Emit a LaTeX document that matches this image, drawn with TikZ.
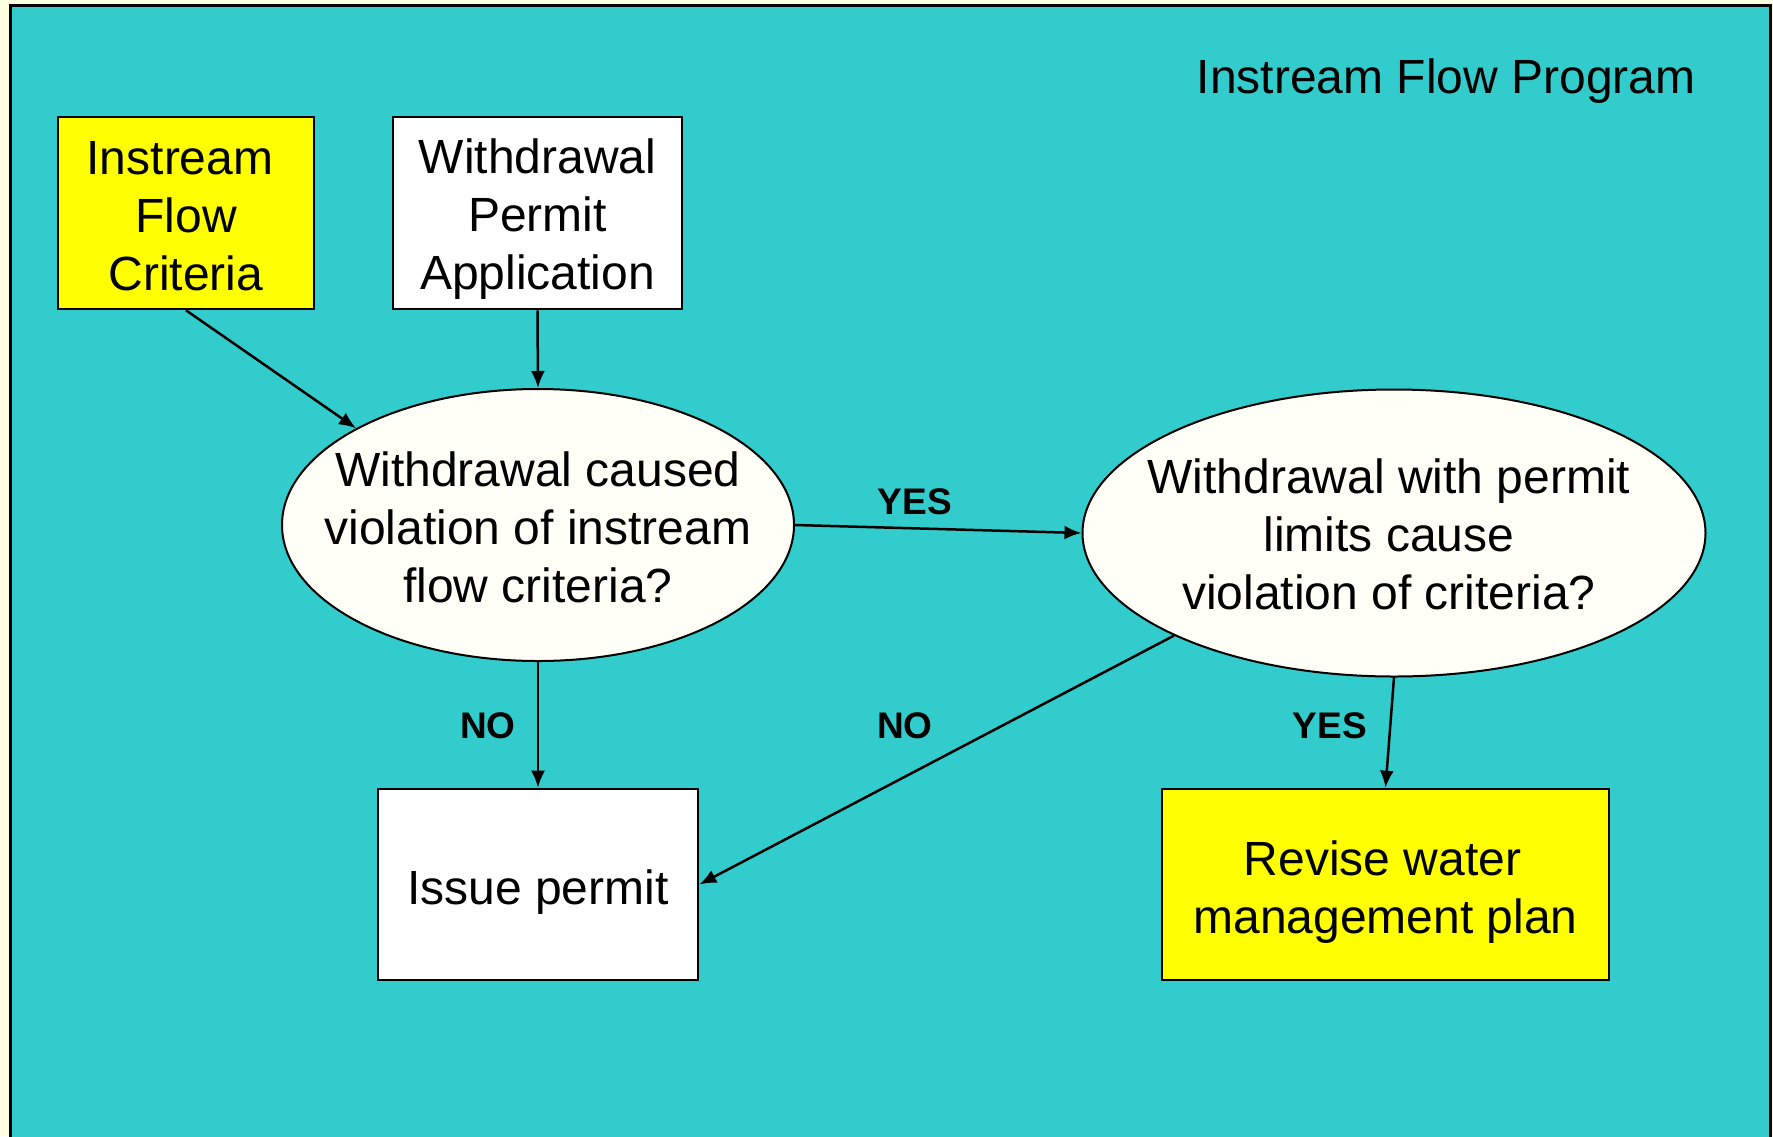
\documentclass[tikz,border=0pt]{standalone}
\usepackage{fontspec}
\setmainfont{Liberation Sans}
\usetikzlibrary{shapes.geometric,arrows.meta}
\definecolor{cream}{HTML}{FFFFE0}
\definecolor{teal}{HTML}{33CCCC}
\definecolor{paper}{HTML}{FFFFF7}
\definecolor{hilite}{HTML}{FFFF00}
% centred lines of text, lowered inside their box without changing its extent
\newcommand\cellstack[2]{\raisebox{-#1}[\height][\depth]{\begin{tabular}{@{}c@{}}#2\end{tabular}}}
\tikzset{
  box/.style={draw=black, line width=2.6pt, inner sep=0pt,
              font=\fontsize{48}{58}\selectfont},
  decision/.style={ellipse, draw=black, line width=2pt, fill=paper, inner sep=0pt},
  decisiontext/.style={align=center, inner sep=0pt, font=\fontsize{48}{58}\selectfont},
  answer/.style={font=\fontsize{37}{40}\selectfont\bfseries},
  flow/.style={draw=black, line width=2.5pt, -{Latex[length=17pt,width=14pt]}},
}
\begin{document}
\begin{tikzpicture}[x=1pt, y=-1pt]
  \useasboundingbox (0,0) rectangle (1773,1136);
  % page and slide panel
  \fill[cream] (0,0) rectangle (1773,1136);
  \filldraw[fill=teal, draw=black, line width=3pt] (10,5) rectangle (1770,1150);

  \node[anchor=east, font=\fontsize{48}{58}\selectfont] (title) at (1699,81) {Instream Flow Program};

  % inputs
  \node[box, fill=hilite, minimum width=256pt, minimum height=192pt] (ifc) at (186,213)
    {\cellstack{7.5pt}{Instream\hspace*{12pt}\\Flow\\Criteria}};
  \node[box, fill=white, minimum width=289pt, minimum height=192pt] (wpa) at (537.5,213)
    {\cellstack{7pt}{Withdrawal\\Permit\\Application}};

  % decisions
  \node[decision, minimum width=512pt, minimum height=272pt] (e1) at (538,525) {};
  \node[decisiontext] (e1t) at (538,527) {Withdrawal caused\\violation of instream\\flow criteria?};
  \node[decision, minimum width=623pt, minimum height=287pt] (e2) at (1394,533) {};
  \node[decisiontext] (e2t) at (1389,534) {Withdrawal with permit\\limits cause\\violation of criteria?};

  % outcomes
  \node[box, fill=white, minimum width=320pt, minimum height=191pt] (issue) at (538,884.5)
    {\cellstack{8pt}{Issue permit}};
  \node[box, fill=hilite, minimum width=447pt, minimum height=191pt] (revise) at (1385.5,884.5)
    {\cellstack{8pt}{Revise water\hspace*{6pt}\\management plan}};

  % connectors
  \draw[flow] (ifc.south) -- (e1.152);
  \draw[flow] (wpa.south) -- (e1.north);
  \draw[flow] (e1.east) -- (e2.west);
  \draw[flow] (e1.south) -- (issue.north);
  \draw[flow] (e2.205) -- (issue.east);
  \draw[flow] (e2.south) -- (revise.north);

  % branch labels
  \node[answer] (yes1) at (915,502) {YES};
  \node[answer] (no1) at (488,726) {NO};
  \node[answer] (no2) at (905,726) {NO};
  \node[answer] (yes2) at (1330,726) {YES};
\end{tikzpicture}
\end{document}
